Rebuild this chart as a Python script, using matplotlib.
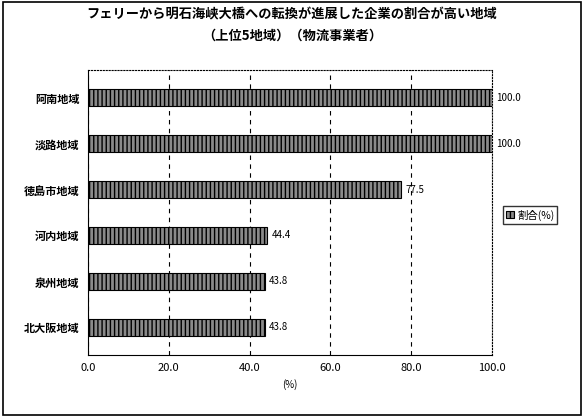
import matplotlib.pyplot as plt

plt.rcParams['font.family'] = ['Noto Sans CJK JP', 'DejaVu Sans']

regions = ['阿南地域', '淡路地域', '徳島市地域', '河内地域', '泉州地域', '北大阪地域']
values = [100.0, 100.0, 77.5, 44.4, 43.8, 43.8]

fig = plt.figure(figsize=(5.84, 4.17), dpi=100)
fig.patches.append(plt.Rectangle((0.005, 0.005), 0.99, 0.99, transform=fig.transFigure,
                                 fill=False, edgecolor='black', linewidth=1.2))
ax = fig.add_axes([88 / 584, 1 - 355 / 417, (492 - 88) / 584, (355 - 70) / 417])

y = list(range(len(regions)))[::-1]
bars = ax.barh(y, values, height=0.38, color='#8a8a8a', edgecolor='black',
               hatch='||||', linewidth=0.8, label='割合(%)', zorder=3)
for yi, v in zip(y, values):
    ax.text(v + 1, yi, f'{v:.1f}', va='center', ha='left', fontsize=7)

ax.set_xlim(0, 100)
ax.set_ylim(-0.6, 5.6)
ax.set_yticks(y)
ax.set_yticklabels(regions, fontsize=8, fontweight='bold')
ax.set_xticks([0, 20, 40, 60, 80, 100])
ax.set_xticklabels([f'{t:.1f}' for t in [0, 20, 40, 60, 80, 100]], fontsize=8)
ax.tick_params(length=0, pad=6)
ax.grid(axis='x', linestyle=(0, (4, 4)), color='black', linewidth=0.8, zorder=0)
ax.spines['top'].set_linestyle(':')
ax.spines['right'].set_linestyle(':')
ax.set_xlabel('(%)', fontsize=7)

fig.text(0.5, 0.955, 'フェリーから明石海峡大橋への転換が進展した企業の割合が高い地域',
         ha='center', fontsize=9.5, fontweight='bold')
fig.text(0.5, 0.905, '（上位5地域）（物流事業者）', ha='center', fontsize=9.5, fontweight='bold')

fig.legend(loc='center', bbox_to_anchor=(530 / 584, 1 - 215 / 417), fontsize=7.5,
           frameon=True, edgecolor='black', fancybox=False, handlelength=0.8,
           handletextpad=0.3, borderpad=0.3)

fig.savefig('out.png', dpi=100)
